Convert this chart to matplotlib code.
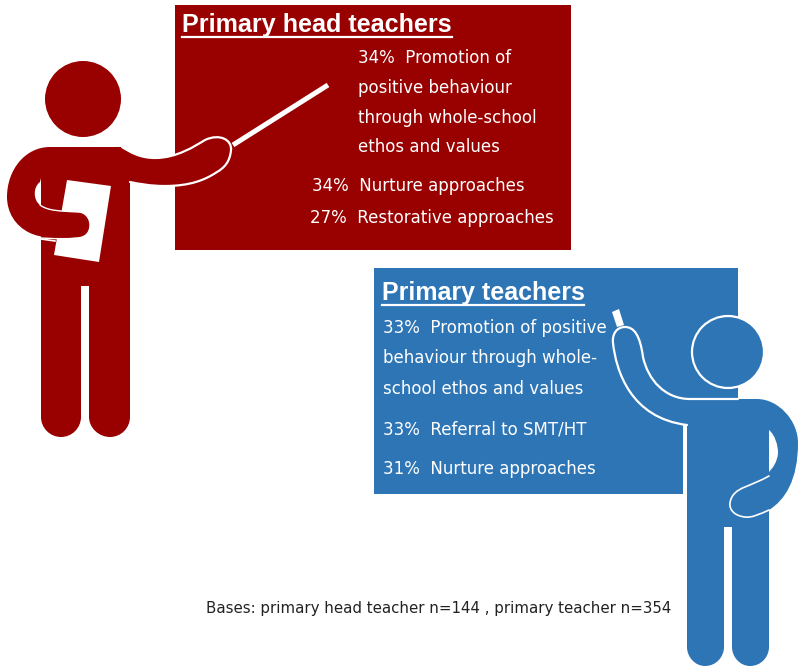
import matplotlib
matplotlib.use('Agg')
import matplotlib.pyplot as plt
from matplotlib.path import Path
from matplotlib.patches import PathPatch, Circle, Rectangle, Polygon

plt.rcParams['font.family'] = ['DejaVu Sans']

RED = '#990000'
BLUE = '#2E75B6'

head_title = 'Primary head teachers'
head_lines = ['34%  Promotion of', 'positive behaviour', 'through whole-school', 'ethos and values',
              '34%  Nurture approaches', '27%  Restorative approaches']
teacher_title = 'Primary teachers'
teacher_lines = ['33%  Promotion of positive', 'behaviour through whole-', 'school ethos and values',
                 '33%  Referral to SMT/HT', '31%  Nurture approaches']
bases_text = 'Bases: primary head teacher n=144 , primary teacher n=354'


def make_path(start, segs, close=False):
    # a seg with 2 values is a line, with 6 values a cubic curve
    verts = [start]
    codes = [Path.MOVETO]
    for s in segs:
        if len(s) == 2:
            verts.append(s)
            codes.append(Path.LINETO)
        else:
            verts += [(s[0], s[1]), (s[2], s[3]), (s[4], s[5])]
            codes += [Path.CURVE4] * 3
    if close:
        verts.append(start)
        codes.append(Path.CLOSEPOLY)
    return Path(verts, codes)


def fill(ax, path, color, z):
    ax.add_patch(PathPatch(path, facecolor=color, edgecolor='none', zorder=z))


def stroke(ax, path, lw, z):
    ax.add_patch(PathPatch(path, facecolor='none', edgecolor='white', lw=lw, zorder=z, capstyle='round'))


def write_lines(ax, lines, xs, ys, size):
    for line, x, y in zip(lines, xs, ys):
        ax.text(x, y, line, color='white', fontsize=size, va='center', ha='left', zorder=6)


fig = plt.figure(figsize=(7.98, 6.66), dpi=100)
ax = fig.add_axes([0, 0, 1, 1])
ax.set_xlim(0, 798)
ax.set_ylim(666, 0)
ax.axis('off')

# red board and text
ax.add_patch(Rectangle((175, 5), 396, 245, facecolor=RED, edgecolor='none', zorder=1))
ax.text(182, 25, head_title, color='white', fontsize=18.1, fontweight='bold', va='center', zorder=6,
        family=['Liberation Sans'])
ax.plot([182, 452], [37, 37], color='white', lw=1.6, zorder=6)
write_lines(ax, head_lines, [358, 358, 358, 358, 312, 310], [58, 88, 118, 147, 186, 218], 12)

# red figure
ax.add_patch(Circle((83, 99), 38, facecolor=RED, edgecolor='none', zorder=3))
body = make_path((60, 147), [(122, 147), (130, 165), (130, 417), (130, 428, 121, 437, 110, 437),
                             (99, 437, 89, 428, 89, 417), (89, 286), (81, 286), (81, 417),
                             (81, 428, 72, 437, 61, 437), (50, 437, 41, 428, 41, 417), (41, 178)], close=True)
fill(ax, body, RED, 3)
ax.add_patch(Polygon([(67, 180), (111, 186), (99, 262), (54, 255)], facecolor='white', edgecolor='none', zorder=4))

arm_r = make_path((122, 147), [(130, 152, 140, 158, 155, 158), (177, 158, 195, 146, 205, 140),
                               (220, 133, 232, 140, 231, 150), (230, 162, 224, 168, 217, 172),
                               (205, 180, 190, 186, 165, 186), (150, 186, 140, 184, 130, 182)])
fill(ax, arm_r, RED, 3)
stroke(ax, arm_r, 1.6, 3.5)
ax.plot([233, 328], [145, 85], color='white', lw=3.6, zorder=4, solid_capstyle='butt')

arm_l = make_path((50, 147), [(60, 147), (60, 178), (41, 178), (40, 182), (33, 187, 33, 200, 40, 205),
                              (48, 211, 60, 211, 78, 212), (85, 212, 90, 218, 90, 225),
                              (90, 233, 85, 238, 76, 238), (55, 239, 41, 238, 30, 233),
                              (15, 226, 7, 212, 7, 197), (7, 170, 25, 147, 50, 147)], close=True)
fill(ax, arm_l, RED, 5)
hand_l = make_path((40, 205), [(48, 211, 60, 211, 78, 212), (85, 212, 90, 218, 90, 225),
                               (90, 233, 85, 238, 76, 238), (65, 239, 62, 239, 41, 238)])
stroke(ax, hand_l, 1.0, 5.5)
ax.plot([41, 55], [239, 241], color='white', lw=1.2, zorder=5.5)

# blue board and text
ax.add_patch(Rectangle((374, 268), 364, 226, facecolor=BLUE, edgecolor='none', zorder=1))
ax.text(382, 293, teacher_title, color='white', fontsize=18, fontweight='bold', va='center', zorder=6,
        family=['Liberation Sans'])
ax.plot([382, 584], [305, 305], color='white', lw=1.6, zorder=6)
write_lines(ax, teacher_lines, [383, 383, 383, 383, 383], [328, 358, 389, 429, 469], 12)

# blue figure
ax.add_patch(Circle((728, 352), 36, facecolor=BLUE, edgecolor='white', lw=1.6, zorder=3))
body_b = make_path((690, 399), [(757, 399), (769, 420), (769, 647), (769, 657, 761, 666, 750, 666),
                                (740, 666, 732, 657, 732, 647), (732, 527), (724, 527), (724, 647),
                                (724, 657, 716, 666, 705, 666), (695, 666, 687, 657, 687, 647),
                                (687, 425)], close=True)
fill(ax, body_b, BLUE, 3)
ax.add_patch(Rectangle((683, 425), 4, 69, facecolor='white', edgecolor='none', zorder=2))

arm_up = make_path((738, 399), [(690, 399), (665, 399, 648, 380, 643, 357), (640, 335, 634, 327, 625, 327),
                                (616, 327, 612, 335, 613, 343), (616, 370, 630, 418, 687, 425)])
fill(ax, arm_up, BLUE, 3.2)
stroke(ax, arm_up, 1.6, 3.5)
ax.add_patch(Polygon([(612, 312), (619, 309), (624, 325), (617, 327)], facecolor='white', edgecolor='none', zorder=4))

arm_b = make_path((740, 399), [(757, 399), (778, 399, 798, 420, 798, 443), (798, 480, 785, 500, 769, 510),
                               (760, 514, 752, 518, 745, 517), (735, 516, 729, 510, 730, 503),
                               (731, 495, 737, 490, 745, 487), (760, 481, 777, 470, 778, 453),
                               (778, 445, 775, 435, 769, 430), (769, 420), (740, 420)], close=True)
fill(ax, arm_b, BLUE, 5)
hand_b = make_path((769, 510), [(760, 514, 752, 518, 745, 517), (735, 516, 729, 510, 730, 503),
                                (731, 495, 737, 490, 745, 487), (752, 484, 760, 481, 769, 476)])
stroke(ax, hand_b, 1.2, 5.5)

ax.text(206, 608, bases_text, color='#222222', fontsize=10.8, va='center', ha='left', zorder=6)

fig.savefig('out.png', dpi=100)
